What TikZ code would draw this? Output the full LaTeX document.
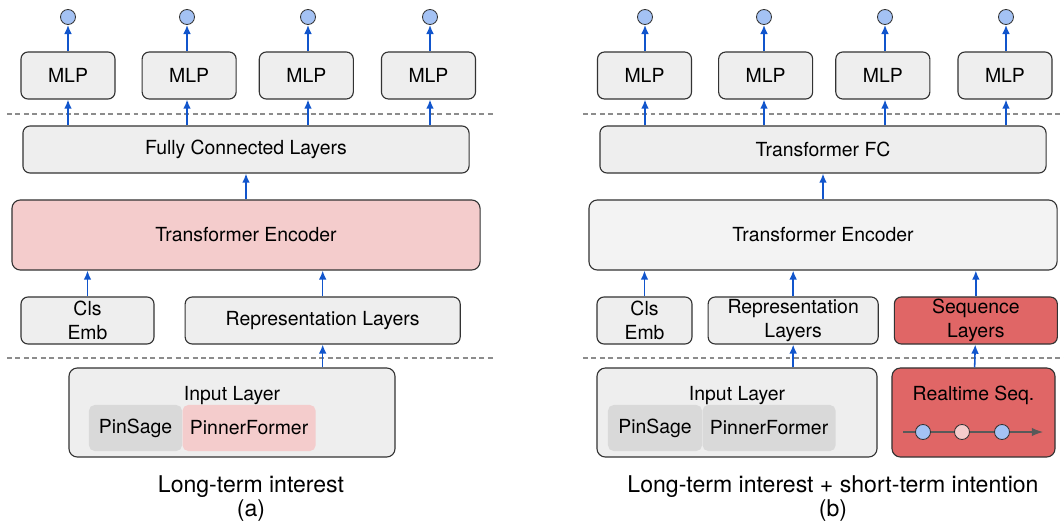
\documentclass[tikz,border=0pt]{standalone}
\usepackage{fontspec}
\setmainfont{TeX Gyre Heros}
\usepackage{xcolor}
\usepackage{tikz}
\usetikzlibrary{arrows.meta, positioning}

\definecolor{boxgray}{HTML}{EEEEEE}
\definecolor{tegray}{HTML}{F3F3F3}
\definecolor{lightpink}{HTML}{F4CCCC}
\definecolor{seqred}{HTML}{E06666}
\definecolor{subgray}{HTML}{D9D9D9}
\definecolor{outblue}{HTML}{A4C2F4}
\definecolor{arrowblue}{HTML}{1155CC}
\definecolor{bordergray}{HTML}{333333}

\begin{document}
\begin{tikzpicture}[
    x=0.025cm, y=-0.025cm,
    font=\fontsize{13.8}{17}\selectfont,
    box/.style={rectangle, draw=bordergray, fill=boxgray, line width=0.8pt, rounded corners=5pt, align=center, inner sep=0pt, minimum height=1.175cm},
    mlp/.style={box, minimum width=2.35cm},
    subbox/.style={rectangle, fill=subgray, rounded corners=4pt, inner sep=0pt, minimum height=1.15cm},
    outdot/.style={circle, draw=bordergray, fill=outblue, line width=0.6pt, inner sep=0pt, minimum size=0.375cm},
    arrow/.style={-{Latex[length=6.5pt, width=5.5pt]}, arrowblue, line width=1.1pt},
    divider/.style={draw=black!45, dash pattern=on 3.5pt off 2.5pt, line width=0.8pt},
    seqline/.style={draw=black!65, line width=0.8pt},
    captext/.style={font=\fontsize{16.4}{19}\selectfont, anchor=base}
]
\useasboundingbox (0,0) rectangle (1064,525);

% Separators
\draw[divider] (7,114) -- (495,114);
\draw[divider] (7,358) -- (495,358);
\draw[divider] (583,114) -- (1064,114);
\draw[divider] (583,358) -- (1064,358);

% (a) Outputs
\node[outdot] (oa1) at (68,17) {};
\node[outdot] (oa2) at (187,17) {};
\node[outdot] (oa3) at (308,17) {};
\node[outdot] (oa4) at (430,17) {};

% (a) Heads
\node[mlp] (mlpa1) at (68,75.5) {MLP};
\node[mlp, right=0.65cm of mlpa1] (mlpa2) {MLP};
\node[mlp, right=0.55cm of mlpa2] (mlpa3) {MLP};
\node[mlp, right=0.675cm of mlpa3] (mlpa4) {MLP};

% (a) Shared layers
\node[box, minimum width=11.15cm] (fca) at (246,149.5) {Fully Connected Layers};
\node[box, fill=lightpink, rounded corners=6pt, minimum width=11.7cm, minimum height=1.75cm] (tea) at (246,235) {Transformer Encoder};
\node[box, minimum width=3.325cm] (clsa) at (87.5,320.5) {Cls\\Emb};
\node[box, minimum width=6.875cm, right=0.75cm of clsa] (repa) {Representation Layers};

% (a) Input Layer
\node[box, rounded corners=6pt, minimum width=8.15cm, minimum height=2.225cm] (inputa) at (232,412.5) {};
\node[anchor=base] (inlabela) at (232,400) {Input Layer};
\node[subbox, minimum width=2.325cm] (pinsagea) at (135.5,428) {PinSage};
\node[subbox, fill=lightpink, minimum width=3.325cm, right=0pt of pinsagea] (pinnera) {PinnerFormer};

% (a) Arrows
\draw[arrow] (oa1 |- mlpa1.north) -- (oa1);
\draw[arrow] (oa2 |- mlpa2.north) -- (oa2);
\draw[arrow] (oa3 |- mlpa3.north) -- (oa3);
\draw[arrow] (oa4 |- mlpa4.north) -- (oa4);
\draw[arrow] (oa1 |- fca.north) -- (oa1 |- mlpa1.south);
\draw[arrow] (oa2 |- fca.north) -- (oa2 |- mlpa2.south);
\draw[arrow] (oa3 |- fca.north) -- (oa3 |- mlpa3.south);
\draw[arrow] (oa4 |- fca.north) -- (oa4 |- mlpa4.south);
\draw[arrow] (tea) -- (fca);
\draw[arrow] (clsa) -- (clsa |- tea.south);
\draw[arrow] (repa) -- (repa |- tea.south);
\draw[arrow] (inputa.north -| repa) -- (repa);

% (a) Caption
\node[captext] (capa) at (251,492) {Long-term interest};
\node[captext] (taga) at (251,516) {(a)};

% (b) Outputs
\node[outdot] (ob1) at (645,17) {};
\node[outdot] (ob2) at (764,17) {};
\node[outdot] (ob3) at (885,17) {};
\node[outdot] (ob4) at (1006,17) {};

% (b) Heads
\node[mlp] (mlpb1) at (644.5,75.5) {MLP};
\node[mlp, right=0.65cm of mlpb1] (mlpb2) {MLP};
\node[mlp, right=0.55cm of mlpb2] (mlpb3) {MLP};
\node[mlp, right=0.675cm of mlpb3] (mlpb4) {MLP};

% (b) Shared layers
\node[box, minimum width=11.15cm] (fcb) at (823,149.5) {Transformer FC};
\node[box, fill=tegray, rounded corners=6pt, minimum width=11.7cm, minimum height=1.75cm] (teb) at (823,235) {Transformer Encoder};
\node[box, minimum width=2.375cm] (clsb) at (644.5,320.5) {Cls\\Emb};
\node[box, minimum width=4.25cm, right=0.375cm of clsb] (repb) {Representation\\Layers};
\node[box, fill=seqred, minimum width=4.075cm, right=0.375cm of repb] (seqb) {Sequence\\Layers};

% (b) Input Layer
\node[box, rounded corners=6pt, minimum width=7cm, minimum height=2.225cm] (inputb) at (737,412.5) {};
\node[anchor=base] (inlabelb) at (737,400) {Input Layer};
\node[subbox, minimum width=2.35cm] (pinsageb) at (655,428) {PinSage};
\node[subbox, minimum width=3.325cm, right=0pt of pinsageb] (pinnerb) {PinnerFormer};

% (b) Realtime sequence
\node[box, fill=seqred, rounded corners=6pt, minimum width=4.075cm, minimum height=2.225cm] (rtb) at (973.5,412.5) {};
\node[anchor=base] (rtlabelb) at (973.5,400) {Realtime Seq.};
\coordinate (seqstart) at (903,432);
\coordinate (seqend) at (1043,432);
\node[outdot] (sq1) at (923,432) {};
\node[outdot, fill=lightpink] (sq2) at (962,432) {};
\node[outdot] (sq3) at (1002,432) {};
\draw[seqline] (seqstart) -- (sq1) (sq1) -- (sq2) (sq2) -- (sq3);
\draw[seqline, -{Latex[length=8pt, width=6pt]}] (sq3) -- (seqend);

% (b) Arrows
\draw[arrow] (ob1 |- mlpb1.north) -- (ob1);
\draw[arrow] (ob2 |- mlpb2.north) -- (ob2);
\draw[arrow] (ob3 |- mlpb3.north) -- (ob3);
\draw[arrow] (ob4 |- mlpb4.north) -- (ob4);
\draw[arrow] (ob1 |- fcb.north) -- (ob1 |- mlpb1.south);
\draw[arrow] (ob2 |- fcb.north) -- (ob2 |- mlpb2.south);
\draw[arrow] (ob3 |- fcb.north) -- (ob3 |- mlpb3.south);
\draw[arrow] (ob4 |- fcb.north) -- (ob4 |- mlpb4.south);
\draw[arrow] (teb) -- (fcb);
\draw[arrow] (clsb) -- (clsb |- teb.south);
\draw[arrow] (repb) -- (repb |- teb.south);
\draw[arrow] (seqb) -- (seqb |- teb.south);
\draw[arrow] (inputb.north -| repb) -- (repb);
\draw[arrow] (rtb) -- (seqb);

% (b) Caption
\node[captext] (capb) at (833,492) {Long-term interest + short-term intention};
\node[captext] (tagb) at (833,516) {(b)};

\end{tikzpicture}
\end{document}
